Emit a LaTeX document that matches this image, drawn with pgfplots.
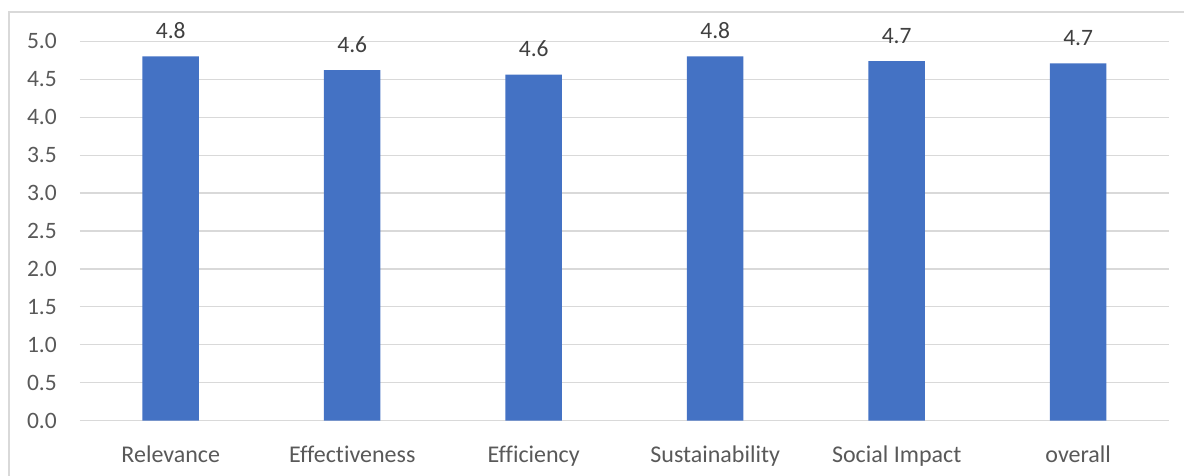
\documentclass[border=0pt]{standalone}
\usepackage{fontspec}
\setmainfont[Ligatures={NoCommon}]{Carlito}
\usepackage{pgfplots}
\pgfplotsset{compat=1.18}
\definecolor{barblue}{HTML}{4472C4}
\definecolor{gridgray}{HTML}{D9D9D9}
\definecolor{ticktext}{HTML}{595959}
\definecolor{labeltext}{HTML}{404040}
\begin{document}
\begin{tikzpicture}
\useasboundingbox (-80pt,-54.3pt) rectangle (1104pt,420.7pt);
\draw[gridgray, line width=1.2pt] (-71pt,-80pt) -- (-71pt,408.7pt) -- (1120pt,408.7pt);
\begin{axis}[
  at={(0,0)}, anchor=south west,
  scale only axis,
  width=1089pt, height=379.4pt,
  xmin=-0.5, xmax=5.5, ymin=0, ymax=5,
  ybar, bar width=56.5pt,
  axis x line*=bottom,
  axis y line*=left,
  y axis line style={draw=none},
  x axis line style={gridgray, line width=1.2pt, -},
  xtick=data,
  xticklabels={Relevance, Effectiveness, Efficiency, Sustainability, Social Impact, overall},
  xtick style={draw=none},
  ytick style={draw=none},
  xticklabel style={font=\fontsize{24}{28}\selectfont, text=ticktext, anchor=base, yshift=-38pt, inner sep=0pt},
  ytick={0,0.5,...,5},
  ymajorgrids,
  grid style={gridgray, line width=1.2pt},
  yticklabel style={font=\fontsize{23.5}{28}\selectfont, text=ticktext, anchor=east, inner sep=0pt, xshift=-23pt},
  /pgf/number format/.cd, fixed, fixed zerofill, precision=1, assume math mode=true,
  /pgfplots/.cd,
  nodes near coords,
  nodes near coords style={font=\fontsize{23.5}{28}\selectfont, text=labeltext, anchor=base, inner sep=0pt, yshift=18pt,
    /pgf/number format/.cd, fixed, fixed zerofill, precision=1, assume math mode=true},
]
\addplot[fill=barblue, draw=none] coordinates {(0,4.80) (1,4.62) (2,4.56) (3,4.80) (4,4.74) (5,4.71)};
\end{axis}
\end{tikzpicture}
\end{document}
